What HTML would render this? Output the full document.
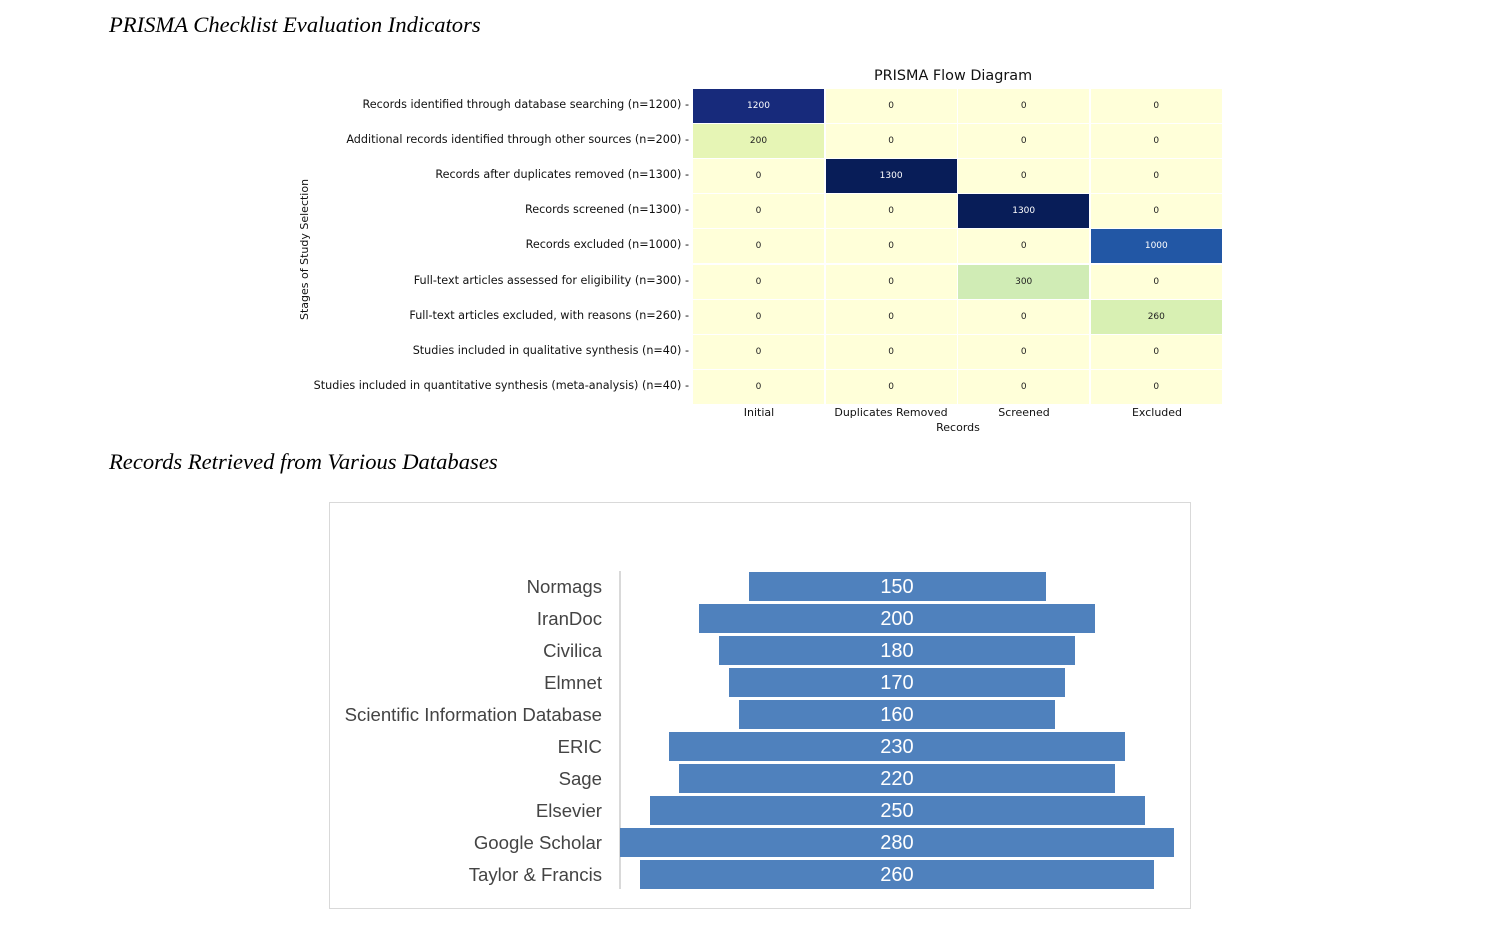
<!DOCTYPE html>
<html><head><meta charset="utf-8"><style>
body{margin:0;width:1492px;height:935px;background:#fff;position:relative;overflow:hidden;font-family:"DejaVu Sans","Liberation Sans",sans-serif}
.h{position:absolute;left:109px;font-family:"Liberation Serif",serif;font-style:italic;font-size:22.6px;color:#000}
.c{position:absolute;width:131px;height:34px;display:flex;align-items:center;justify-content:center;font-size:9px;color:#222}
.rl{position:absolute;right:803px;font-size:11.2px;color:#111;white-space:nowrap}
.xl{position:absolute;font-size:11px;color:#111;transform:translateX(-50%);white-space:nowrap}
.fl{position:absolute;right:890px;font-family:"Liberation Sans",sans-serif;font-size:18.6px;color:#444;white-space:nowrap}
.bar{position:absolute;height:29px;background:#4f81bd;color:#fff;font-family:"Liberation Sans",sans-serif;font-size:20px;display:flex;align-items:center;justify-content:center;padding-top:2px;box-sizing:border-box}
</style></head><body>
<div class="h" style="top:12px">PRISMA Checklist Evaluation Indicators</div>
<div class="h" style="top:449px">Records Retrieved from Various Databases</div>
<div style="position:absolute;left:874px;top:68px;font-size:14.4px;color:#111">PRISMA Flow Diagram</div>
<div style="position:absolute;left:298px;top:320px;transform:rotate(-90deg);transform-origin:0 0;font-size:11px;color:#111;white-space:nowrap">Stages of Study Selection</div>
<div id="hm"></div>
<div class="xl" style="left:759px;top:406px">Initial</div>
<div class="xl" style="left:891px;top:406px">Duplicates Removed</div>
<div class="xl" style="left:1024px;top:406px">Screened</div>
<div class="xl" style="left:1157px;top:406px">Excluded</div>
<div class="xl" style="left:958px;top:421px">Records</div>
<div style="position:absolute;left:329px;top:502px;width:860px;height:405px;border:1.5px solid #d9d9d9"></div>
<div style="position:absolute;left:619px;top:571px;width:2px;height:318px;background:#d9d9d9"></div>
<div id="fn"></div>
<script>
var rows=["Records identified through database searching (n=1200)","Additional records identified through other sources (n=200)","Records after duplicates removed (n=1300)","Records screened (n=1300)","Records excluded (n=1000)","Full-text articles assessed for eligibility (n=300)","Full-text articles excluded, with reasons (n=260)","Studies included in qualitative synthesis (n=40)","Studies included in quantitative synthesis (meta-analysis) (n=40)"];
var v=[[1200,0,0,0],[200,0,0,0],[0,1300,0,0],[0,0,1300,0],[0,0,0,1000],[0,0,300,0],[0,0,0,260],[0,0,0,0],[0,0,0,0]];
var col={1200:"#172a7b",1300:"#081d58",1000:"#2257a5",200:"#e6f5b5",300:"#d0ecb5",260:"#d8f0b3",0:"#ffffd9"};
var h="";
for(var r=0;r<9;r++){var y=88+r*35.1;
h+='<div class="rl" style="top:'+(y+10)+'px">'+rows[r]+' -</div>';
for(var c=0;c<4;c++){var x=693+c*132.6,val=v[r][c];
h+='<div class="c" style="left:'+x+'px;top:'+(y+1)+'px;background:'+col[val]+';color:'+(val>=1000?'#fff':'#222')+'">'+val+'</div>';}}
document.getElementById("hm").innerHTML=h;
var f=[["Normags",150],["IranDoc",200],["Civilica",180],["Elmnet",170],["Scientific Information Database",160],["ERIC",230],["Sage",220],["Elsevier",250],["Google Scholar",280],["Taylor & Francis",260]];
h="";
for(var i=0;i<10;i++){var y=572+i*32.05,w=f[i][1]*1.98;
h+='<div class="fl" style="top:'+(y+4)+'px">'+f[i][0].replace("&","&amp;")+'</div>';
h+='<div class="bar" style="left:'+(897-w/2)+'px;top:'+y+'px;width:'+w+'px">'+f[i][1]+'</div>';}
document.getElementById("fn").innerHTML=h;
</script>
</body></html>
